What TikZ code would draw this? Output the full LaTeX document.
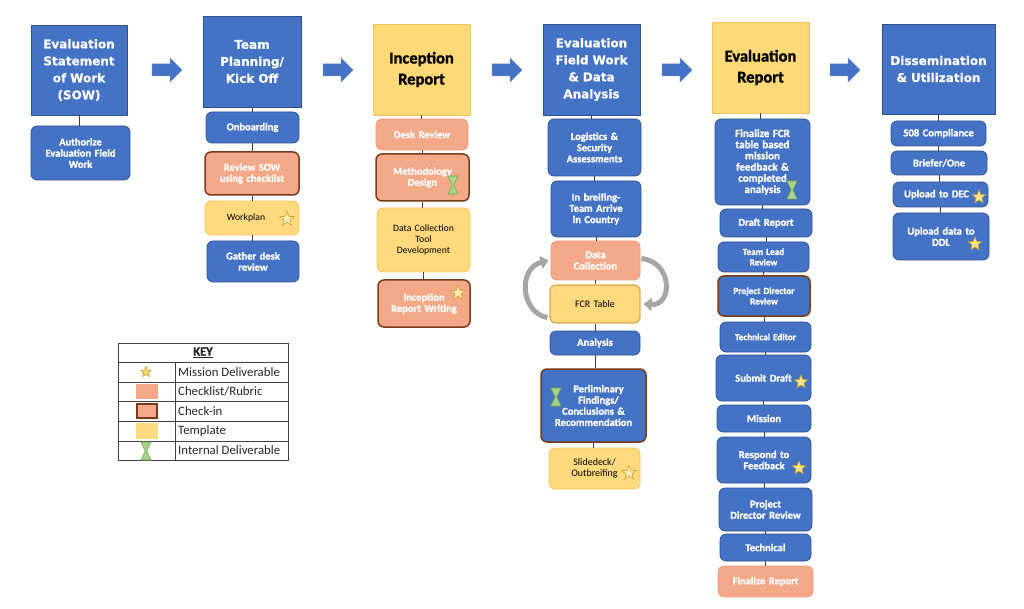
\documentclass[tikz,border=0pt]{standalone}
\usepackage{fontspec}
\setmainfont{Carlito}[BoldFeatures={FakeBold=1.3}]
\newfontfamily\hdfont{DejaVu Sans}[BoldFeatures={FakeBold=0.6}]
\usetikzlibrary{shapes.geometric,arrows.meta,calc}
\definecolor{bblue}{HTML}{4472C4}
\definecolor{bbord}{HTML}{2F528F}
\definecolor{hyel}{HTML}{FFD877}
\definecolor{ybord}{HTML}{F2C55C}
\definecolor{syel}{HTML}{FFD97E}
\definecolor{sybord}{HTML}{F5C65A}
\definecolor{salm}{HTML}{F3A888}
\definecolor{salbord}{HTML}{EE9C7C}
\definecolor{brown}{HTML}{7B3A18}
\definecolor{conn}{HTML}{404040}
\definecolor{starfill}{HTML}{FFE58F}
\definecolor{stardraw}{HTML}{C9A227}
\definecolor{hgfill}{HTML}{A9D18E}
\definecolor{hgdraw}{HTML}{70AD47}
\definecolor{cyc}{HTML}{A6A6A6}
\tikzset{
  hdr/.style={draw=bbord, line width=0.6pt, fill=bblue, text=white, font=\hdfont\bfseries\fontsize{12}{17}\selectfont, align=center, inner sep=0pt},
  hdry/.style={draw=ybord, line width=0.6pt, fill=hyel, text=black, font=\bfseries\fontsize{16.5}{21}\selectfont, align=center, inner sep=0pt},
  sb/.style={rounded corners=6pt, draw=bbord, line width=0.7pt, fill=bblue, text=white, font=\bfseries\fontsize{10.5}{11.2}\selectfont, align=center, inner sep=0pt},
  sbs/.style={sb, font=\bfseries\fontsize{9.2}{10.5}\selectfont},
  sbc/.style={sb, draw=brown, line width=1.5pt},
  sbcs/.style={sbc, font=\bfseries\fontsize{9.2}{10.5}\selectfont},
  ss/.style={rounded corners=6pt, draw=salbord, line width=0.7pt, fill=salm, text=white, font=\bfseries\fontsize{10.5}{11.2}\selectfont, align=center, inner sep=0pt},
  sc/.style={ss, draw=brown, line width=1.5pt},
  sy/.style={rounded corners=6pt, draw=sybord, line width=0.7pt, fill=syel, text=black, font=\fontsize{9.7}{11.2}\selectfont, align=center, inner sep=0pt},
  syb/.style={sy, draw=ybord!80!brown, line width=1.3pt},
  conn/.style={draw=conn, line width=0.8pt},
  mstar/.style={star, star points=5, star point ratio=2.3, minimum size=#1, inner sep=0pt, fill=starfill, draw=stardraw, line width=0.6pt},
  ostar/.style={mstar=#1, fill=syel!60!white, draw=stardraw},
  cycarrow/.style={draw=cyc, line width=5pt, -{Triangle[width=13pt,length=8pt]}},
  barr/.style={fill=bblue, draw=bblue!80!white, line width=0.5pt},
  keytxt/.style={anchor=west, font=\fontsize{12.8}{14}\selectfont, inner sep=0pt, text=black!85},
}
\newcommand\bx[7]{%
  \pgfmathsetmacro\bxw{#5-#3}\pgfmathsetmacro\bxh{#6-#4}\pgfmathsetmacro\bxt{#5-#3-4}%
  \node[#2, minimum width=\bxw pt, minimum height=\bxh pt, text width=\bxt pt] (#1) at ({(#3+#5)/2},{(#4+#6)/2}) {#7};}
\newcommand\hglass[2]{%
  \filldraw[fill=hgfill, draw=hgdraw, line width=0.6pt] (#1-5,#2-9) -- (#1+5,#2-9) -- (#1+0.8,#2) -- (#1+5,#2+9) -- (#1-5,#2+9) -- (#1-0.8,#2) -- cycle;}
\newcommand\barrow[1]{%
  \path[barr] (#1,64) -- (#1+18,64) -- (#1+18,58) -- (#1+30,70) -- (#1+18,82) -- (#1+18,76) -- (#1,76) -- cycle;}
\begin{document}
\begin{tikzpicture}[x=1pt,y=-1pt]
\useasboundingbox[fill=white] (0,0) rectangle (1024,609);

% headers
\bx{h1}{hdr}{31}{25}{127}{115}{Evaluation\\Statement\\of Work\\(SOW)}
\bx{h2}{hdr}{203}{16}{301}{107}{Team\\Planning/\\Kick Off}
\bx{h3}{hdry}{373}{24}{470}{115}{Inception\\Report}
\bx{h4}{hdr}{543}{24}{640}{115}{Evaluation\\Field Work\\\& Data\\Analysis}
\bx{h5}{hdry}{712}{22}{809}{113}{Evaluation\\Report}
\bx{h6}{hdr}{882}{24}{995}{114}{Dissemination\\\& Utilization}

% block arrows
\barrow{152}\barrow{323}\barrow{492}\barrow{662}\barrow{830}

% column 1
\bx{a1}{sb}{31}{126}{130}{180}{Authorize\\Evaluation Field\\Work}

% column 2
\bx{b1}{sb}{206}{112}{299}{143}{Onboarding}
\bx{b2}{sc}{205}{152}{299}{195}{Review SOW\\using checklist}
\bx{b3}{sy}{205}{201}{299}{235}{\hspace*{-12pt}Workplan}
\bx{b4}{sb}{207}{241}{299}{282}{Gather desk\\review}

% column 3
\bx{c1}{ss}{376}{119}{468}{150}{Desk Review}
\bx{c2}{sc}{376}{154}{469}{201}{Methodology\\Design}
\bx{c3}{sy}{377}{208}{470}{272}{Data Collection\\Tool\\Development}
\bx{c4}{sc}{378}{280}{470}{327}{Inception\\Report Writing}

% column 4
\bx{d1}{sb}{548}{119}{641}{176}{Logistics \&\\Security\\Assessments}
\bx{d2}{sb}{551}{181}{641}{237}{In breifing-\\Team Arrive\\in Country}
\bx{d3}{ss}{551}{241}{640}{280}{Data\\Collection}
\bx{d4}{syb}{550}{285}{640}{323}{\fontsize{10}{11}\selectfont FCR Table}
\bx{d5}{sb}{550}{331}{640}{355}{Analysis}
\bx{d6}{sbc}{541}{369}{646}{442}{\hspace*{10pt}Perliminary\\\hspace*{10pt}Findings/\\Conclusions \&\\Recommendation}
\bx{d7}{sy}{549}{448}{640}{489}{\fontsize{10}{11}\selectfont Slidedeck/\\Outbreifing}

% column 5
\bx{e1}{sb}{715}{119}{810}{205}{\fontsize{11}{11.2}\selectfont Finalize FCR\\table based\\mission\\feedback \&\\completed\\analysis}
\bx{e2}{sb}{720}{209}{812}{237}{Draft Report}
\bx{e3}{sbs}{718}{242}{809}{272}{Team Lead\\Review}
\bx{e4}{sbcs}{718}{276}{810}{316}{Project Director\\Review}
\bx{e5}{sbs}{720}{322}{811}{352}{Technical Editor}
\bx{e6}{sb}{716}{355}{811}{401}{Submit Draft}
\bx{e7}{sb}{717}{405}{811}{432}{Mission}
\bx{e8}{sb}{717}{437}{811}{483}{Respond to\\Feedback}
\bx{e9}{sb}{719}{488}{812}{531}{Project\\Director Review}
\bx{e10}{sb}{720}{534}{811}{561}{Technical}
\bx{e11}{ss}{718}{566}{813}{597}{Finalize Report}

% column 6
\bx{f1}{sb}{891}{121}{986}{146}{508 Compliance}
\bx{f2}{sb}{891}{151}{987}{175}{Briefer/One}
\bx{f3}{sb}{893}{182}{988}{207}{\hspace*{-8pt}Upload to DEC}
\bx{f4}{sb}{893}{213}{989}{260}{Upload data to\\DDL}

% connectors
\foreach \a/\b in {h1/a1,h2/b1,b1/b2,b2/b3,b3/b4,h3/c1,c1/c2,c2/c3,c3/c4,
  h4/d1,d1/d2,d2/d3,d3/d4,d4/d5,d5/d6,d6/d7,
  h5/e1,e1/e2,e2/e3,e3/e4,e4/e5,e5/e6,e6/e7,e7/e8,e8/e9,e9/e10,e10/e11,
  h6/f1,f1/f2,f2/f3,f3/f4}
  \draw[conn] (\a.south) -- (\a.south |- \b.north);

% cycle arrows
\draw[cycarrow] (d4.south west) ++(-2,-6) .. controls (520,312) and (518,268) .. ($(d3.west)+(-2,0)$);
\draw[cycarrow] ($(d3.east)+(1,-2)$) .. controls (673,262) and (673,306) .. ($(d4.east)+(3,0)$);

% markers
\node[ostar=15pt] (s1) at (287,219) {};
\hglass{453}{185}
\node[ostar=15pt] (s2) at (458,293) {};
\hglass{556}{397}
\node[ostar=15pt] (s3) at (629,473) {};
\hglass{792}{190}
\node[mstar=14pt] (s4) at (801,382) {};
\node[mstar=14pt] (s5) at (799,468) {};
\node[mstar=14pt] (s6) at (979,197) {};
\node[mstar=14pt] (s7) at (975,244) {};

% key
\draw[black!75, line width=0.8pt] (118,343) rectangle (288,460);
\foreach \y in {362,382,401,421,441} \draw[black!75, line width=0.6pt] (118,\y) -- (288,\y);
\draw[black!75, line width=0.6pt] (175,362) -- (175,460);
\node[font=\bfseries\fontsize{12.5}{14}\selectfont, inner sep=0pt, text=black!85] (keyt) at (203,352.5) {\underline{KEY}};
\node[mstar=11pt, fill=hyel, draw=stardraw] (ks) at (146,372) {};
\path[fill=salm] (136,384) rectangle (158,399);
\path[fill=salm, draw=brown, line width=1.2pt] (137,404) rectangle (157,418);
\path[fill=syel] (136,423) rectangle (158,439);
\hglass{146}{451}
\node[keytxt] (k1) at (178,372) {Mission Deliverable};
\node[keytxt] (k2) at (178,391.5) {Checklist/Rubric};
\node[keytxt] (k3) at (178,411) {Check-in};
\node[keytxt] (k4) at (178,431) {Template};
\node[keytxt] (k5) at (178,450.5) {Internal Deliverable};
\end{tikzpicture}
\end{document}
